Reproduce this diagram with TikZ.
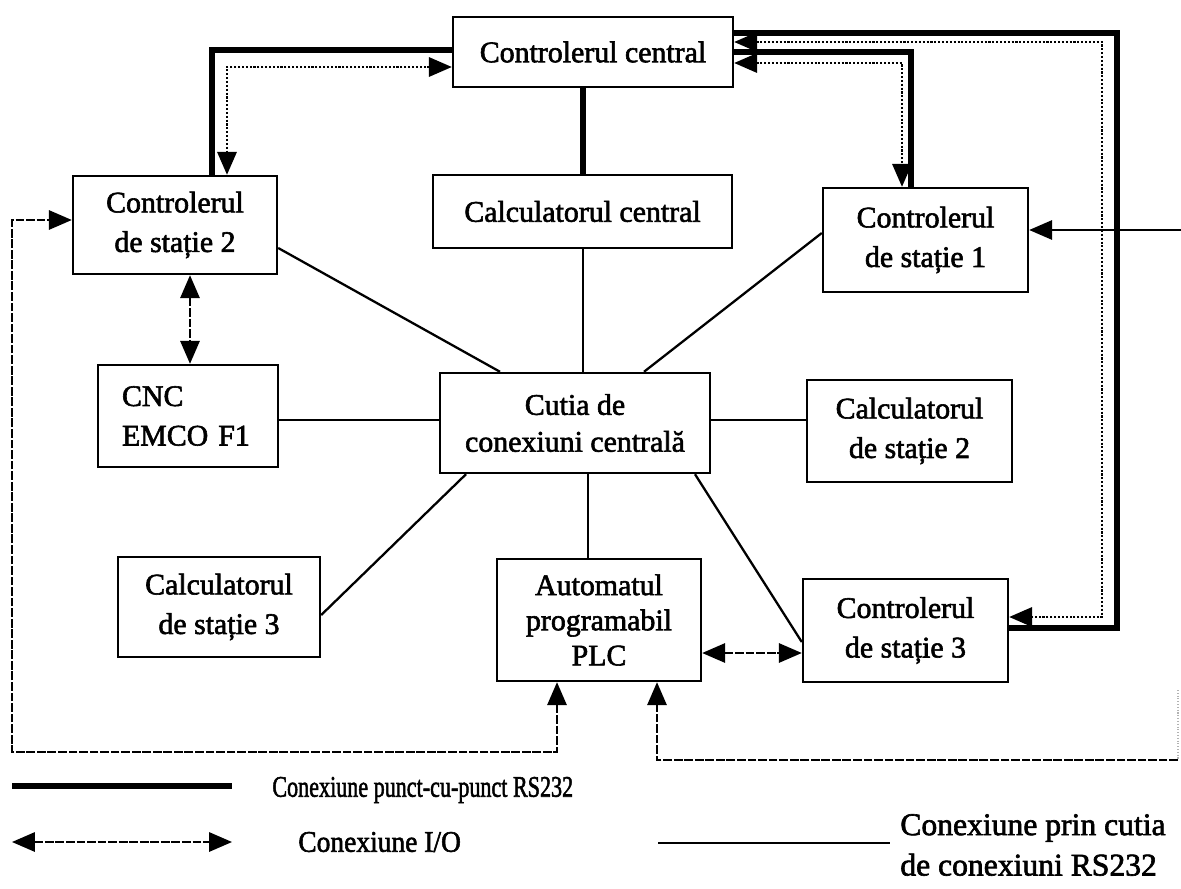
\documentclass[tikz,border=0pt]{standalone}
\usepackage{fontspec}
\usepackage{graphicx}
\setmainfont{Liberation Serif}[FakeBold=2]
\usetikzlibrary{arrows.meta}
\begin{document}
\begin{tikzpicture}[x=0.02cm,y=-0.02cm,
  font=\fontsize{17}{22.5}\selectfont,
  box/.style={draw,line width=1.4pt,align=center,inner sep=0pt},
  rs/.style={line width=3.6pt,line join=miter},
  cx/.style={line width=1.3pt},
  tip/.style={>={Triangle[length=13pt,width=11pt]}},
  io/.style={tip,line width=1pt,dash pattern=on 5pt off 1pt},
  ios/.style={tip,line width=1pt},
  iod/.style={tip,line width=1.2pt,densely dotted},
  lbl/.style={anchor=west,align=left,inner sep=0pt}]
\useasboundingbox (0,0) rectangle (1181,889);
% boxes
\node[box,minimum width=5.6cm,minimum height=1.4cm] (cc) at (593,52) {Controlerul central};
\node[box,minimum width=5.98cm,minimum height=1.46cm] (calcc) at (582.5,211.5) {Calculatorul central};
\node[box,minimum width=4.08cm,minimum height=1.96cm] (cs2) at (175,225) {Controlerul\\de stație 2};
\node[box,minimum width=4.1cm,minimum height=2.08cm] (cs1) at (925.5,240) {Controlerul\\de stație 1};
\node[box,minimum height=2.04cm,text width=2.64cm,inner xsep=0.48cm,align=left] (cnc) at (188,416) {CNC\\EMCO F1};
\node[box,minimum width=5.4cm,minimum height=2cm,font=\fontsize{17}{21}\selectfont] (cutia) at (575,423) {Cutia de\\conexiuni centrală};
\node[box,minimum width=4.1cm,minimum height=2.04cm] (calc2) at (909.5,431) {Calculatorul\\de stație 2};
\node[box,minimum width=4.04cm,minimum height=2cm] (calc3) at (219,607) {Calculatorul\\de stație 3};
\node[box,minimum width=4.08cm,minimum height=2.44cm,font=\fontsize{17}{20}\selectfont] (plc) at (599,620) {Automatul\\programabil\\PLC};
\node[box,minimum width=4.1cm,minimum height=2.06cm] (cs3) at (905.5,630.5) {Controlerul\\de stație 3};
% free ends
\coordinate (in1) at (1181,230);
\coordinate (in2) at (1178,760);
\coordinate (fv1) at (1178,690);
% point-to-point RS232
\draw[rs] (cc.south -| 583,0) -- (calcc.north -| 583,0);
\draw[rs] (cc.west |- 0,50) -| (212,0 |- cs2.north);
\draw[rs] (cc.east |- 0,33) -| (1117,628) -- (cs3.east |- 0,628);
\draw[rs] (cc.east |- 0,52) -| (911,0 |- cs1.north);
% I/O alongside
\draw[iod,<->] (cc.west |- 0,67) -| (227,0 |- cs2.north);
\draw[iod,<->] (cc.east |- 0,42) -| (1102,617) -- (cs3.east |- 0,617);
\draw[iod,<->] (cc.east |- 0,63) -| (902,0 |- cs1.north);
% via connection box
\draw[cx] (cs2.east |- 0,248) -- (cutia.north -| 500,0);
\draw[cx] (cs1.west |- 0,233) -- (cutia.north -| 644,0);
\draw[cx] (calcc.south -| 583,0) -- (cutia.north -| 583,0);
\draw[cx] (cnc.east |- 0,420) -- (cutia.west |- 0,420);
\draw[cx] (cutia.east |- 0,420) -- (calc2.west |- 0,420);
\draw[cx] (cutia.south -| 466,0) -- (calc3.east |- 0,615);
\draw[cx] (cutia.south -| 588,0) -- (plc.north -| 588,0);
\draw[cx] (cutia.south -| 695,0) -- (cs3.west |- 0,642);
% I/O
\draw[io,<->] (cs2.south -| 190,0) -- (cnc.north -| 190,0);
\draw[io,<->] (plc.east |- 0,653) -- (cs3.west |- 0,653);
\draw[ios,->] (in1) -- (cs1.east |- 0,230);
\draw[io,<->] (plc.south -| 557,0) -- (557,752) -- (12,752) -- (12,220) -- (cs2.west |- 0,220);
\draw[io,->] (in2) -- (657,760) -- (plc.south -| 657,0);
\draw[gray!60,line width=0.6pt,densely dotted] (fv1) -- (in2);
% legend
\coordinate (l1a) at (12,786); \coordinate (l1b) at (232,786);
\coordinate (l2a) at (12,842); \coordinate (l2b) at (232,842);
\coordinate (l3a) at (658,843); \coordinate (l3b) at (890,843);
\draw[rs] (l1a) -- (l1b);
\draw[io,<->] (l2a) -- (l2b);
\draw[cx] (l3a) -- (l3b);
\node[lbl] (t1) at (272,790) {\scalebox{0.74}[1]{Conexiune punct-cu-punct RS232}};
\node[lbl] (t2) at (298,842) {\scalebox{0.92}[1]{Conexiune I/O}};
\node[lbl,font=\fontsize{18}{23}\selectfont] (t3) at (900,845) {Conexiune prin cutia\\de conexiuni RS232};
\end{tikzpicture}
\end{document}
